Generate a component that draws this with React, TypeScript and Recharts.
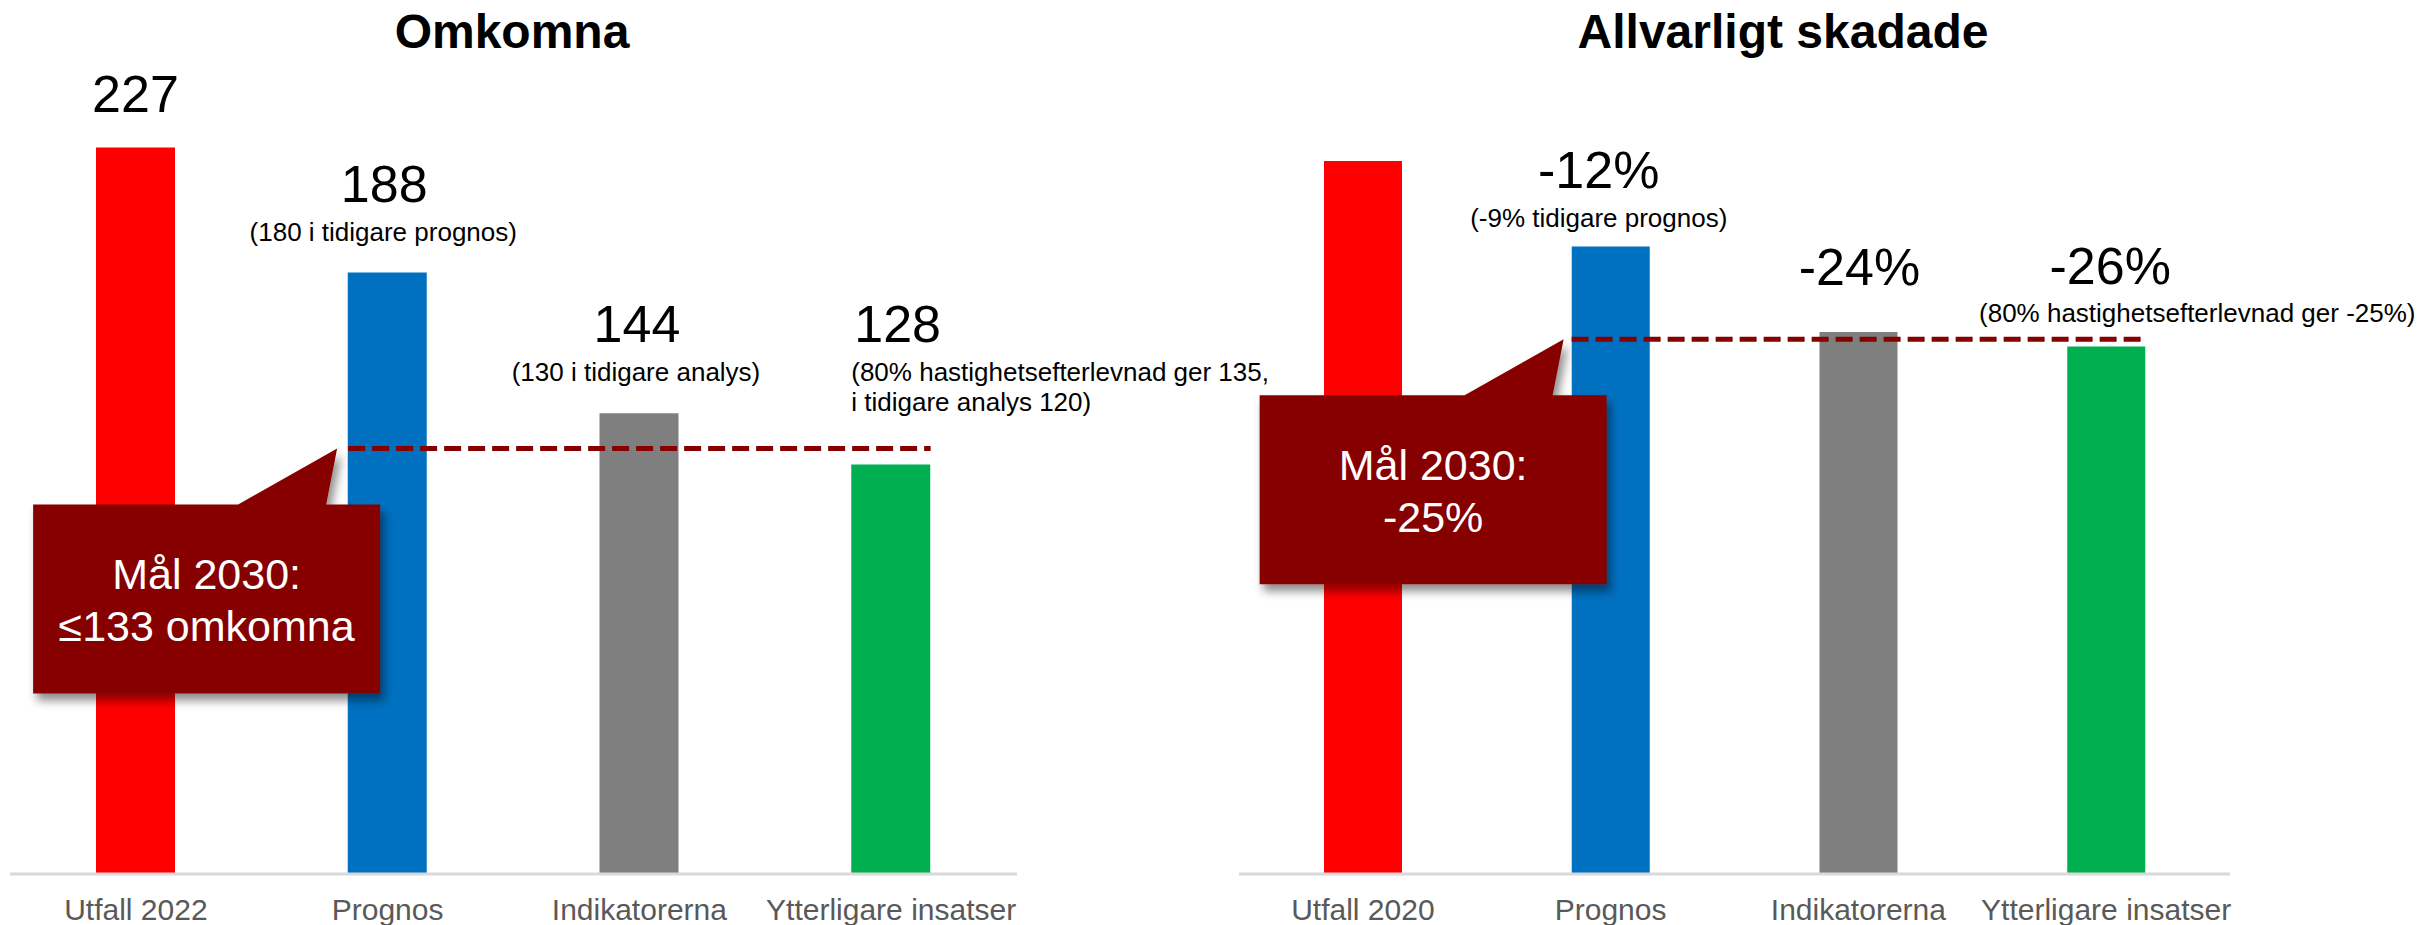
import React from 'react';
import { BarChart, Bar, XAxis, YAxis, Cell, LabelList, ReferenceLine } from 'recharts';

const FONT = '"Liberation Sans", Arial, Helvetica, sans-serif';

// ---------- Left chart: Omkomna ----------
const leftTitle = 'Omkomna';
const leftCategories = ['Utfall 2022', 'Prognos', 'Indikatorerna', 'Ytterligare insatser'];
const leftValues = [227, 188, 144, 128];
const leftValueLabels = ['227', '188', '144', '128'];
const leftNotes: string[][] = [
  [],
  ['(180 i tidigare prognos)'],
  ['(130 i tidigare analys)'],
  ['(80% hastighetsefterlevnad ger 135,', 'i tidigare analys 120)'],
];
const leftTarget = 133;
const leftTargetText = ['Mål 2030:', '≤133 omkomna'];

// ---------- Right chart: Allvarligt skadade (index, Utfall 2020 = 100) ----------
const rightTitle = 'Allvarligt skadade';
const rightCategories = ['Utfall 2020', 'Prognos', 'Indikatorerna', 'Ytterligare insatser'];
const rightValues = [100, 88, 76, 74];
const rightValueLabels = ['', '-12%', '-24%', '-26%'];
const rightNotes: string[][] = [
  [],
  ['(-9% tidigare prognos)'],
  [],
  ['(80% hastighetsefterlevnad ger -25%)'],
];
const rightTarget = 75;
const rightTargetText = ['Mål 2030:', '-25%'];

const barColors = ['#FF0000', '#0070C0', '#7F7F7F', '#00B050'];
const TARGET_COLOR = '#870000';

const leftData = leftCategories.map((name, i) => ({ name, value: leftValues[i] }));
const rightData = rightCategories.map((name, i) => ({ name, value: rightValues[i] }));

// label styling (offsets relative to the bar top)
type LabelStyle = { anchor: 'start' | 'middle'; dx: number; mainDy: number; noteDx: number; noteDy: number };
const leftLabelStyle: LabelStyle[] = [
  { anchor: 'middle', dx: 0, mainDy: -36, noteDx: 0, noteDy: 0 },
  { anchor: 'middle', dx: -3, mainDy: -70, noteDx: -4, noteDy: -31 },
  { anchor: 'middle', dx: -2, mainDy: -71, noteDx: -3, noteDy: -32 },
  { anchor: 'start', dx: 3, mainDy: -122, noteDx: 0, noteDy: -83 },
];
const rightLabelStyle: LabelStyle[] = [
  { anchor: 'middle', dx: 0, mainDy: -40, noteDx: 0, noteDy: 0 },
  { anchor: 'middle', dx: -12, mainDy: -59, noteDx: -12, noteDy: -20 },
  { anchor: 'middle', dx: 1, mainDy: -47, noteDx: 0, noteDy: 0 },
  { anchor: 'middle', dx: 4, mainDy: -62, noteDx: 91, noteDy: -24 },
];

const makeLabel = (cats: string[], mains: string[], notes: string[][], styles: LabelStyle[]) => (props: any) => {
  const { x, y, width, value } = props;
  const i = cats.indexOf(value);
  if (i < 0) return null;
  const s = styles[i];
  const bx = s.anchor === 'middle' ? Number(x) + Number(width) / 2 : Number(x);
  const top = Number(y);
  return (
    <g>
      {mains[i] ? (
        <text x={bx + s.dx} y={top + s.mainDy} textAnchor={s.anchor} fontFamily={FONT} fontSize={52} fill="#000">
          {mains[i]}
        </text>
      ) : null}
      {notes[i].map((line, k) => (
        <text
          key={k}
          x={(s.anchor === 'middle' ? bx : Number(x)) + s.noteDx}
          y={top + s.noteDy + k * 30}
          textAnchor={s.anchor}
          fontFamily={FONT}
          fontSize={26}
          fill="#000"
        >
          {line}
        </text>
      ))}
    </g>
  );
};

const makeTargetShape = (lines: string[], barSize: number, tipGap: number, id: string) => (props: any) => {
  const { x1, y1, x2 } = props;
  const sx = Number(x1) - barSize / 2;
  const ex = Number(x2) + barSize / 2;
  const y = Number(y1);
  const tx = sx - tipGap;
  const ty = y;
  const bl = tx - 304;
  const br = tx + 43;
  const bt = ty + 56;
  const bb = ty + 245;
  const path = `M${bl},${bt} L${tx - 99},${bt} L${tx},${ty} L${tx - 11},${bt} L${br},${bt} L${br},${bb} L${bl},${bb} Z`;
  const cx = (bl + br) / 2;
  return (
    <g>
      <defs>
        <filter id={id} x="-20%" y="-20%" width="150%" height="150%">
          <feDropShadow dx="4" dy="7" stdDeviation="5" floodColor="#000" floodOpacity="0.45" />
        </filter>
      </defs>
      <line x1={sx} y1={y} x2={ex} y2={y} stroke={TARGET_COLOR} strokeWidth={5} strokeDasharray="17 7" />
      <path d={path} fill={TARGET_COLOR} filter={`url(#${id})`} />
      {lines.map((t, k) => (
        <text key={k} x={cx} y={bt + 85 + k * 52} textAnchor="middle" fontFamily={FONT} fontSize={43} fill="#fff">
          {t}
        </text>
      ))}
    </g>
  );
};

const CatTick = (props: any) => {
  const { x, y, payload } = props;
  return (
    <text x={x} y={Number(y) + 46} textAnchor="middle" fontFamily={FONT} fontSize={30} fill="#595959">
      {payload.value}
    </text>
  );
};

const LEFT_BAR = 79;
const RIGHT_BAR = 78;

export default function App() {
  return (
    <div style={{ position: 'absolute', left: 0, top: 0, width: 2435, height: 925, background: '#fff', overflow: 'hidden' }}>
      <div style={{ position: 'absolute', left: 0, top: 0 }}>
        <BarChart width={1340} height={925} data={leftData} margin={{ top: 106, left: 10, right: 323, bottom: 0 }}>
          <YAxis hide domain={[0, 240]} />
          <XAxis
            dataKey="name"
            interval={0}
            height={51}
            tickSize={0}
            tickMargin={0}
            tickLine={false}
            axisLine={{ stroke: '#D9D9D9', strokeWidth: 3 }}
            tick={<CatTick />}
          />
          <Bar dataKey="value" barSize={LEFT_BAR} isAnimationActive={false}>
            {leftData.map((d, i) => (
              <Cell key={d.name} fill={barColors[i]} />
            ))}
            <LabelList dataKey="name" content={makeLabel(leftCategories, leftValueLabels, leftNotes, leftLabelStyle)} />
          </Bar>
          <ReferenceLine
            segment={[
              { x: leftCategories[1], y: leftTarget },
              { x: leftCategories[3], y: leftTarget },
            ]}
            shape={makeTargetShape(leftTargetText, LEFT_BAR, 11, 'shadowL')}
          />
        </BarChart>
      </div>
      <div style={{ position: 'absolute', left: 1230, top: 0 }}>
        <BarChart width={1205} height={925} data={rightData} margin={{ top: 161, left: 9, right: 205, bottom: 0 }}>
          <YAxis hide domain={[0, 100]} />
          <XAxis
            dataKey="name"
            interval={0}
            height={51}
            tickSize={0}
            tickMargin={0}
            tickLine={false}
            axisLine={{ stroke: '#D9D9D9', strokeWidth: 3 }}
            tick={<CatTick />}
          />
          <Bar dataKey="value" barSize={RIGHT_BAR} isAnimationActive={false}>
            {rightData.map((d, i) => (
              <Cell key={d.name} fill={barColors[i]} />
            ))}
            <LabelList dataKey="name" content={makeLabel(rightCategories, rightValueLabels, rightNotes, rightLabelStyle)} />
          </Bar>
          <ReferenceLine
            segment={[
              { x: rightCategories[1], y: rightTarget },
              { x: rightCategories[3], y: rightTarget },
            ]}
            shape={makeTargetShape(rightTargetText, RIGHT_BAR, 8, 'shadowR')}
          />
        </BarChart>
      </div>
      <svg width={2435} height={925} style={{ position: 'absolute', left: 0, top: 0, pointerEvents: 'none' }}>
        <text x={512} y={48} textAnchor="middle" fontFamily={FONT} fontWeight="bold" fontSize={48} fill="#000">
          {leftTitle}
        </text>
        <text x={1783} y={48} textAnchor="middle" fontFamily={FONT} fontWeight="bold" fontSize={48} fill="#000">
          {rightTitle}
        </text>
      </svg>
    </div>
  );
}
